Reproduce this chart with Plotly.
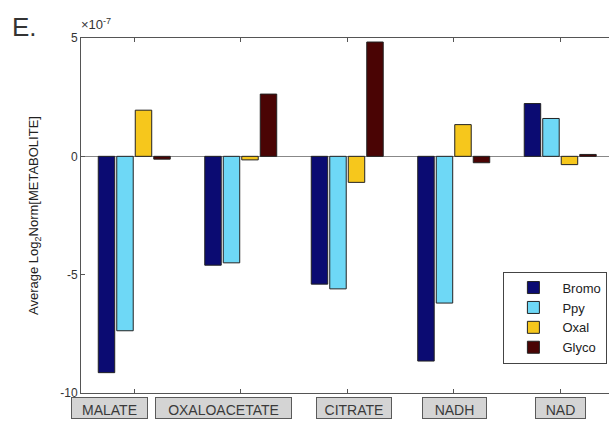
import plotly.graph_objects as go

# Data (values in units of 1e-7)
categories = ["MALATE", "OXALOACETATE", "CITRATE", "NADH", "NAD"]
bromo = [-9.14, -4.6, -5.4, -8.65, 2.23]
ppy = [-7.37, -4.5, -5.6, -6.2, 1.6]
oxal = [1.95, -0.15, -1.1, 1.34, -0.35]
glyco = [-0.12, 2.63, 4.83, -0.27, 0.08]
series_names = ["Bromo", "Ppy", "Oxal", "Glyco"]
y_ticks = [-10, -5, 0, 5]

series = [bromo, ppy, oxal, glyco]
colors = ["#0b0b72", "#6ed8f6", "#f6c71c", "#4a0404"]

FONT = "Liberation Sans, Arial"

fig = go.Figure()
for name, vals, col in zip(series_names, series, colors):
    fig.add_trace(go.Bar(
        x=list(range(len(categories))), y=vals, name=name,
        marker=dict(color=col, line=dict(color="#222222", width=1)),
    ))

# label boxes below axis (MATLAB-style)
label_shift = [-24.5, -17, 7, 1, 0]
label_width = [75, 135, 74, 63, 49]
annotations = []
for i, (cat, sh, w) in enumerate(zip(categories, label_shift, label_width)):
    annotations.append(dict(
        x=i, y=-0.012, xref="x", yref="paper", xanchor="center", yanchor="top",
        xshift=sh, text=cat, showarrow=False, width=w, height=20,
        valign="bottom", align="center",
        bgcolor="#d4d4d4", bordercolor="#5a5a5a", borderwidth=1, borderpad=0,
        font=dict(family=FONT, size=14, color="#3a3a3a"),
    ))

annotations.append(dict(
    x=-0.134, y=1.031, xref="paper", yref="paper", xanchor="left", yanchor="middle",
    text="E.", showarrow=False,
    font=dict(family=FONT, size=26, color="#333333"),
))
annotations.append(dict(
    x=-0.004, y=1.04, xref="paper", yref="paper", xanchor="left", yanchor="middle",
    text="×10<sup>-7</sup>", showarrow=False,
    font=dict(family=FONT, size=13, color="#333333"),
))
annotations.append(dict(
    x=-0.088, y=0.5, xref="paper", yref="paper", xanchor="center", yanchor="middle",
    text="Average Log<sub>2</sub>Norm[METABOLITE]", textangle=-90, showarrow=False,
    font=dict(family=FONT, size=13, color="#222222"),
))

fig.update_layout(
    width=609, height=421,
    margin=dict(l=81, r=0, t=38, b=28),
    paper_bgcolor="white", plot_bgcolor="white",
    barmode="group", bargap=0.305, bargroupgap=0.11,
    annotations=annotations,
    legend=dict(
        x=0.800, y=0.342, xanchor="left", yanchor="top",
        bgcolor="white", bordercolor="#444444", borderwidth=1,
        font=dict(family=FONT, size=13, color="#222222"),
        itemwidth=48, tracegroupgap=3,
    ),
    xaxis=dict(
        range=[-0.5, 4.458], tickvals=list(range(len(categories))),
        showticklabels=False, ticks="inside", ticklen=4, tickcolor="#555555",
        showline=True, linecolor="#555555", linewidth=1, mirror="ticks",
        showgrid=False, zeroline=False,
    ),
    yaxis=dict(
        range=[-10, 5], tickvals=y_ticks, ticktext=[str(v) for v in y_ticks],
        ticks="inside", ticklen=4, tickcolor="#555555",
        showline=True, linecolor="#555555", linewidth=1,
        showgrid=False, zeroline=True, zerolinecolor="#888888", zerolinewidth=1,
        tickfont=dict(family=FONT, size=12, color="#333333"),
    ),
)

fig.write_html("out.html")
